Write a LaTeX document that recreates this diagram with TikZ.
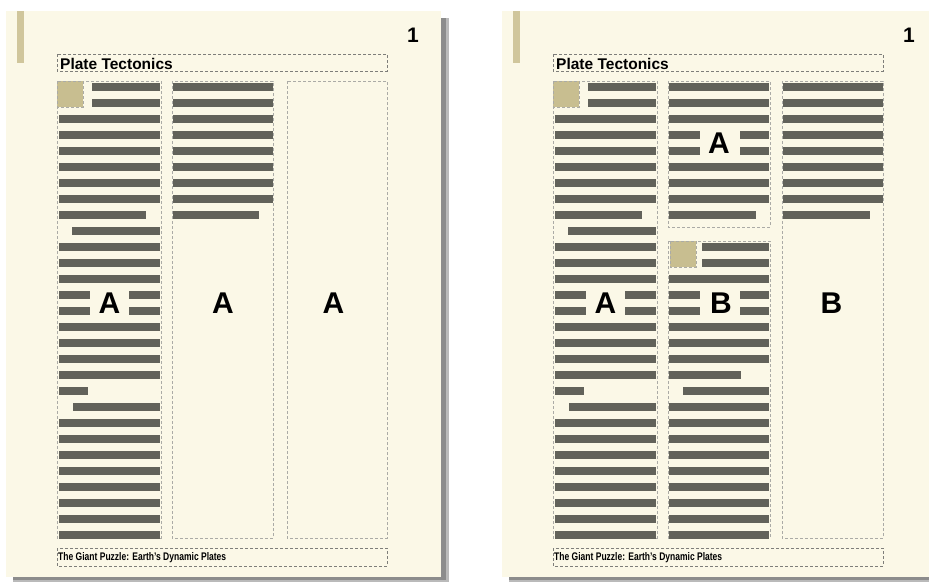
\documentclass[tikz,border=0pt]{standalone}
\usepackage{fontspec}
\setmainfont{Liberation Sans}
\definecolor{paper}{HTML}{FBF8E7}
\definecolor{barc}{HTML}{62625A}
\definecolor{goldsq}{HTML}{C8BE90}
\definecolor{goldbar}{HTML}{D0C69C}
\definecolor{guidec}{HTML}{ABABA6}
\definecolor{headc}{HTML}{7E7E7A}
\definecolor{shadowc}{HTML}{8C8C8C}
\newcommand\txtbar[3]{\fill[barc] (#1,{83+16*#3}) rectangle (#2,{91+16*#3});}
\begin{document}
\begin{tikzpicture}[x=1pt,y=-1pt,
  guide/.style={draw=guidec, dash pattern=on 3pt off 2pt, line width=0.9pt},
  headguide/.style={draw=headc, dash pattern=on 3pt off 2pt, line width=0.9pt},
  bigletter/.style={font=\bfseries\fontsize{30}{30}\selectfont, inner sep=0pt},
  pagenum/.style={font=\bfseries\fontsize{21}{21}\selectfont, inner sep=0pt},
  headfont/.style={font=\bfseries\fontsize{15.5}{15.5}\selectfont, inner sep=0pt, anchor=west}]
\useasboundingbox (0,0) rectangle (929,582);
\fill[white] (0,0) rectangle (929,582);
\foreach \dx in {0,496}{
  \begin{scope}[xshift=\dx pt]
    % page and shadow
    \fill[shadowc!60] (441,18) rectangle (449,582);
    \fill[shadowc] (441,18) rectangle (446,580);
    \fill[shadowc!60] (13,577) rectangle (449,582);
    \fill[shadowc] (13,577) rectangle (446,580);
    \fill[paper] (6,11) rectangle (441,577);
    \fill[goldbar] (17,11) rectangle (24,63);
    \node[pagenum] (num\dx) at (413,35) {1};
    % header and footer
    \draw[headguide] (57,54) rectangle (387,71);
    \node[headfont] (title\dx) at (60,63.5) {Plate Tectonics};
    \draw[headguide] (57,548) rectangle (387,566);
    \node[inner sep=0pt, anchor=west] (foot\dx) at (58,558)
      {\resizebox{168pt}{8pt}{\bfseries The Giant Puzzle: Earth's Dynamic Plates}};
    % column 1 (same on both pages)
    \draw[guide] (57,81) rectangle (161,538);
    \fill[goldsq] (57,81) rectangle (83,107);
    \draw[guide] (57,81) rectangle (83,107);
    \foreach \i in {0,1} {\txtbar{92}{160}{\i}}
    \foreach \i in {2,3,4,5,6,7,10,11,12,15,16,17,18,21,22,23,24,25,26,27,28} {\txtbar{59}{160}{\i}}
    \txtbar{59}{146}{8}
    \txtbar{72}{160}{9}
    \foreach \i in {13,14} {\txtbar{59}{90}{\i}\txtbar{129}{160}{\i}}
    \txtbar{59}{88}{19}
    \txtbar{73}{160}{20}
    \node[bigletter] (c1\dx) at (109.5,303) {A};
  \end{scope}
}
% left page, columns 2 and 3
\draw[guide] (172,81) rectangle (273,538);
\foreach \i in {0,...,7} {\txtbar{173}{273}{\i}}
\txtbar{173}{259}{8}
\node[bigletter] (l2) at (223,303) {A};
\draw[guide] (287,81) rectangle (387,538);
\node[bigletter] (l3) at (333.5,303) {A};
% right page, column 2 top (A)
\draw[guide] (668,81) rectangle (770,227);
\foreach \i in {0,1,2,5,6,7} {\txtbar{669}{769}{\i}}
\foreach \i in {3,4} {\txtbar{669}{700}{\i}\txtbar{740}{769}{\i}}
\txtbar{669}{756}{8}
\node[bigletter] (r2a) at (719,143) {A};
% right page, column 2 bottom (B)
\draw[guide] (668,241) rectangle (770,538);
\fill[goldsq] (670,241) rectangle (696,267);
\draw[guide] (670,241) rectangle (696,267);
\foreach \i in {10,11} {\txtbar{702}{769}{\i}}
\foreach \i in {12,15,16,17,20,21,22,23,24,25,26,27,28} {\txtbar{669}{769}{\i}}
\foreach \i in {13,14} {\txtbar{669}{700}{\i}\txtbar{740}{769}{\i}}
\txtbar{669}{741}{18}
\txtbar{683}{769}{19}
\node[bigletter] (r2b) at (721,303) {B};
% right page, column 3 (B)
\draw[guide] (782,81) rectangle (883,538);
\foreach \i in {0,...,7} {\txtbar{783}{883}{\i}}
\txtbar{783}{870}{8}
\node[bigletter] (r3) at (831.5,303) {B};
\end{tikzpicture}
\end{document}
